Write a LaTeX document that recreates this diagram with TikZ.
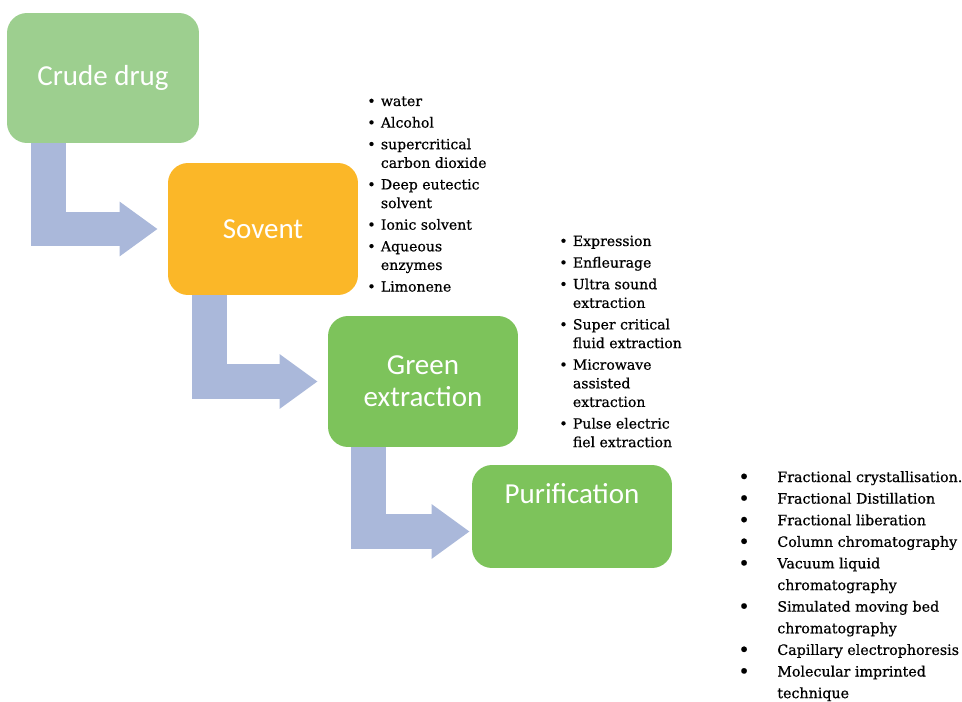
\documentclass[tikz,border=0pt]{standalone}
\usepackage{fontspec}
\setmainfont[FakeBold=0.6]{DejaVu Serif}
\newfontfamily\boxfont{Carlito}
\usetikzlibrary{arrows.meta}
\definecolor{crude}{HTML}{9DCF8F}
\definecolor{solv}{HTML}{FBB728}
\definecolor{grn}{HTML}{7DC35B}
\definecolor{flw}{HTML}{AAB8DA}
\newcommand{\bl}{\textbullet}
\newcommand{\bbl}{\raisebox{-0.9pt}{\fontsize{11}{11}\selectfont\textbullet}}
\tikzset{
  stage/.style={rounded corners=0.4cm,text=white,align=center,inner sep=2pt,font=\boxfont\fontsize{16.5}{18}\selectfont},
  lst/.style={anchor=base west,inner sep=0pt,font=\fontsize{8}{10.6}\selectfont},
  flow/.style={draw=flw,line width=0.7cm,line join=miter,-{Triangle[length=0.76cm,width=1.04cm]}},
}

\begin{document}
\begin{tikzpicture}[x=0.02cm,y=-0.02cm]
\useasboundingbox (0,0) rectangle (962,702);
% the four stages
\node[stage,fill=crude,minimum width=3.84cm,minimum height=2.6cm] (crude) at (103,78) {Crude drug};
\node[stage,fill=solv,minimum width=3.8cm,minimum height=2.64cm] (sov) at (263,229) {Sovent};
\node[stage,fill=grn,minimum width=3.8cm,minimum height=2.62cm] (green) at (423,381.5) {Green\\extraction};
\node[stage,fill=grn,minimum width=4cm,minimum height=2.06cm,text height=0.42cm,text depth=0.96cm] (pur) at (572,516.5) {Purification};
% bent arrows
\draw[flow] ([xshift=0.83cm]crude.south west) |- ([xshift=-0.2cm]sov.west);
\draw[flow] ([xshift=0.83cm]sov.south west) |- ([xshift=-0.2cm]green.west);
\draw[flow] ([xshift=0.81cm]green.south west) |- ([xshift=-0.04cm,yshift=-0.3cm]pur.west);
% lists next to the stages
\node[lst] (solvlist) at (367,106) {\begin{tabular}[t]{@{}l@{\hspace{3pt}}l@{}}
\bl & water\\[1.7pt]
\bl & Alcohol\\[1.7pt]
\bl & supercritical\\
    & carbon dioxide\\[1.7pt]
\bl & Deep eutectic\\
    & solvent\\[1.7pt]
\bl & Ionic solvent\\[1.7pt]
\bl & Aqueous\\
    & enzymes\\[1.7pt]
\bl & Limonene
\end{tabular}};
\node[lst] (extlist) at (559,246) {\begin{tabular}[t]{@{}l@{\hspace{3pt}}l@{}}
\bl & Expression\\[1.7pt]
\bl & Enfleurage\\[1.7pt]
\bl & Ultra sound\\
    & extraction\\[1.7pt]
\bl & Super critical\\
    & fluid extraction\\[1.7pt]
\bl & Microwave\\
    & assisted\\
    & extraction\\[1.7pt]
\bl & Pulse electric\\
    & fiel extraction
\end{tabular}};
\node[lst,font=\fontsize{8.1}{12.3}\selectfont] (purlist) at (738,482) {\begin{tabular}[t]{@{}p{0.78cm}@{}l@{}}
\bbl & Fractional crystallisation.\\
\bbl & Fractional Distillation\\
\bbl & Fractional liberation\\
\bbl & Column chromatography\\
\bbl & Vacuum liquid\\
     & chromatography\\
\bbl & Simulated moving bed\\
     & chromatography\\
\bbl & Capillary electrophoresis\\
\bbl & Molecular imprinted\\
     & technique
\end{tabular}};
\end{tikzpicture}
\end{document}
